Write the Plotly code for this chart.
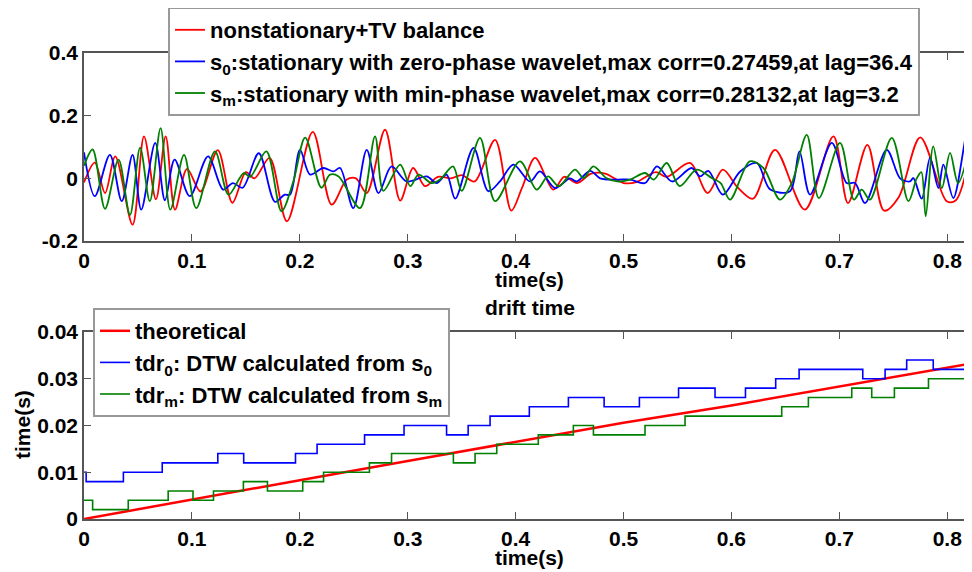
import plotly.graph_objects as go

# ---------------- top panel: traces ----------------
red_t = [0, 0.010, 0.0195, 0.029, 0.045, 0.0556, 0.0667, 0.0757, 0.0843, 0.0955, 0.108, 0.124, 0.1375,
         0.150, 0.158, 0.172, 0.188, 0.212, 0.2295, 0.2435, 0.252, 0.262, 0.279, 0.293, 0.305, 0.316,
         0.328, 0.340, 0.350, 0.362, 0.381, 0.396, 0.406, 0.418, 0.435, 0.445, 0.457, 0.470, 0.483,
         0.500, 0.512, 0.530, 0.540, 0.5616, 0.578, 0.592, 0.606, 0.620, 0.6404, 0.668, 0.6945, 0.708,
         0.726, 0.7414, 0.755, 0.775, 0.7995, 0.808, 0.822]
red_v = [-0.013, 0.05, -0.047, 0.07, -0.148, 0.134, -0.067, 0.134, -0.10, 0.03, -0.042, 0.09, -0.078,
         0.02, 0.0, 0.065, -0.137, 0.148, -0.084, -0.004, 0.0, -0.047, 0.155, -0.071, 0.033, -0.025,
         0.005, 0.0, 0.01, -0.01, 0.123, -0.103, -0.03, 0.065, -0.036, 0.005, -0.015, 0.015, 0.015,
         -0.015, -0.012, 0.02, 0.005, 0.049, -0.047, 0.028, -0.03, -0.065, 0.091, -0.10, 0.134, -0.079,
         0.107, -0.103, -0.06, 0.131, -0.073, -0.07, 0.097]

blue_t = [0, 0.010, 0.024, 0.035, 0.045, 0.053, 0.066, 0.075, 0.084, 0.098, 0.115, 0.129, 0.138, 0.147,
          0.162, 0.177, 0.186, 0.191, 0.2002, 0.2095, 0.2218, 0.2311, 0.2373, 0.2496, 0.262, 0.2729,
          0.285, 0.299, 0.3176, 0.3268, 0.336, 0.344, 0.361, 0.3747, 0.3855, 0.3979, 0.4133, 0.4226,
          0.4365, 0.4504, 0.4566, 0.469, 0.4783, 0.4937, 0.5061, 0.520, 0.531, 0.545, 0.563, 0.5709,
          0.5786, 0.592, 0.6081, 0.6234, 0.636, 0.6543, 0.663, 0.6728, 0.693, 0.7068, 0.7145, 0.7238,
          0.7439, 0.7563, 0.7655, 0.7686, 0.7763, 0.784, 0.7918, 0.7964, 0.8057, 0.8196, 0.8227]
blue_v = [0.083, -0.057, 0.075, -0.073, 0.075, -0.10, 0.113, -0.07, 0.06, -0.057, 0.07, -0.036, -0.015,
          -0.03, 0.08, -0.075, -0.052, -0.052, 0.091, 0.012, 0.033, 0.022, 0.033, -0.095, 0.091, -0.047,
          0.038, -0.01, 0.006, -0.015, 0.012, -0.065, 0.097, -0.041, -0.01, 0.044, -0.01, 0.022,
          -0.031, 0.0, -0.01, 0.024, 0.0, -0.004, -0.004, -0.015, 0.038, -0.01, 0.033, 0.006,
          0.024, -0.052, 0.022, 0.049, -0.036, -0.041, 0.086, -0.052, 0.113, -0.015, -0.015, -0.079,
          0.091, 0.0, -0.01, 0.001, -0.065, 0.065, -0.031, 0.044, -0.063, 0.166, 0.128]

green_t = [0, 0.008, 0.0195, 0.032, 0.0426, 0.052, 0.061, 0.071, 0.080, 0.0927, 0.104, 0.1214, 0.134,
           0.148, 0.154, 0.169, 0.183, 0.194, 0.205, 0.220, 0.228, 0.236, 0.2558, 0.2697, 0.2775,
           0.293, 0.3024, 0.310, 0.322, 0.330, 0.342, 0.350, 0.367, 0.381, 0.404, 0.4195, 0.430,
           0.440, 0.455, 0.463, 0.472, 0.484, 0.494, 0.506, 0.520, 0.528, 0.540, 0.552, 0.5677,
           0.5817, 0.590, 0.5987, 0.617, 0.6296, 0.645, 0.6559, 0.6698, 0.681, 0.7006, 0.7135,
           0.7207, 0.7284, 0.7486, 0.764, 0.7717, 0.776, 0.780, 0.787, 0.795, 0.8026, 0.810, 0.822]
green_v = [0.04, 0.092, -0.097, 0.06, -0.117, 0.098, -0.073, 0.16, -0.10, 0.075, -0.095, 0.086, -0.052,
           0.017, 0.005, 0.086, -0.105, -0.01, 0.13, -0.03, 0.012, 0.006, -0.095, 0.134, -0.04,
           0.044, -0.025, 0.012, -0.015, -0.004, 0.038, -0.04, 0.129, -0.073, 0.054, -0.036, 0.006,
           -0.025, 0.028, 0.001, 0.038, 0.001, -0.01, -0.004, 0.017, -0.004, 0.049, -0.025, 0.028,
           0.001, -0.015, -0.068, 0.054, 0.033, -0.068, -0.015, 0.139, -0.063, 0.113, -0.068,
           -0.036, -0.068, 0.129, -0.073, 0.0, 0.02, -0.121, 0.102, -0.031, 0.081, -0.015, 0.118]

# ---------------- bottom panel: drift time ----------------
theo_t = [0, 0.1, 0.2, 0.3, 0.4, 0.5, 0.6, 0.7, 0.8, 0.823]
theo_v = [0, 0.0042, 0.0083, 0.0124, 0.0165, 0.0206, 0.0243, 0.0283, 0.0324, 0.0333]

tdr0_t = [0, 0.002, 0.0365, 0.0725, 0.124, 0.148, 0.196, 0.216, 0.260, 0.2966, 0.336, 0.356,
          0.3763, 0.4127, 0.4489, 0.482, 0.5147, 0.551, 0.5848, 0.613, 0.641, 0.6627, 0.7217,
          0.7424, 0.7624, 0.787, 0.823]
tdr0_v = [0.010, 0.008, 0.010, 0.012, 0.014, 0.012, 0.014, 0.016, 0.018, 0.020, 0.018, 0.020,
          0.022, 0.024, 0.026, 0.024, 0.026, 0.028, 0.026, 0.028, 0.030, 0.032, 0.030,
          0.032, 0.034, 0.032, 0.032]

tdrm_t = [0, 0.008, 0.041, 0.078, 0.101, 0.120, 0.1477, 0.170, 0.2027, 0.222, 0.2645, 0.285,
          0.3423, 0.3624, 0.3825, 0.421, 0.4535, 0.4721, 0.5199, 0.557, 0.6466, 0.6713, 0.7115,
          0.730, 0.751, 0.7826, 0.823]
tdrm_v = [0.004, 0.002, 0.004, 0.006, 0.004, 0.006, 0.008, 0.006, 0.008, 0.010, 0.012, 0.014,
          0.012, 0.014, 0.016, 0.018, 0.020, 0.018, 0.020, 0.022, 0.024, 0.026, 0.028,
          0.026, 0.028, 0.030, 0.030]

x_ticks = [0, 0.1, 0.2, 0.3, 0.4, 0.5, 0.6, 0.7, 0.8]
x_labels = ["0", "0.1", "0.2", "0.3", "0.4", "0.5", "0.6", "0.7", "0.8"]
y1_ticks = [-0.2, 0, 0.2, 0.4]
y1_labels = ["-0.2", "0", "0.2", "0.4"]
y2_ticks = [0, 0.01, 0.02, 0.03, 0.04]
y2_labels = ["0", "0.01", "0.02", "0.03", "0.04"]

RED, BLUE, GREEN = "#ff0000", "#0000ff", "#008000"
FONT = "Liberation Sans, Arial, sans-serif"

fig = go.Figure()
fig.add_trace(go.Scatter(x=red_t, y=red_v, mode="lines", line=dict(color=RED, width=1.8, shape="spline", smoothing=0.9),
                         name="nonstationary+TV balance", xaxis="x", yaxis="y", legend="legend"))
fig.add_trace(go.Scatter(x=blue_t, y=blue_v, mode="lines", line=dict(color=BLUE, width=1.8, shape="spline", smoothing=0.9),
                         name="s<sub>0</sub>:stationary with zero-phase wavelet,max corr=0.27459,at lag=36.4",
                         xaxis="x", yaxis="y", legend="legend"))
fig.add_trace(go.Scatter(x=green_t, y=green_v, mode="lines", line=dict(color=GREEN, width=1.8, shape="spline", smoothing=0.9),
                         name="s<sub>m</sub>:stationary with min-phase wavelet,max corr=0.28132,at lag=3.2",
                         xaxis="x", yaxis="y", legend="legend"))

fig.add_trace(go.Scatter(x=theo_t, y=theo_v, mode="lines", line=dict(color=RED, width=2.5),
                         name="theoretical", xaxis="x2", yaxis="y2", legend="legend2"))
fig.add_trace(go.Scatter(x=tdr0_t, y=tdr0_v, mode="lines", line=dict(color=BLUE, width=1.6, shape="hv"),
                         name="tdr<sub>0</sub>: DTW calculated from s<sub>0</sub>", xaxis="x2", yaxis="y2", legend="legend2"))
fig.add_trace(go.Scatter(x=tdrm_t, y=tdrm_v, mode="lines", line=dict(color=GREEN, width=1.6, shape="hv"),
                         name="tdr<sub>m</sub>: DTW calculated from s<sub>m</sub>", xaxis="x2", yaxis="y2", legend="legend2"))

# The page body offsets the figure by 8 px; size the figure so it ends at the window edge.
OFF = 8
H, W = 572 - OFF, 972 - OFF
ml = 84 - OFF
mt = 53 - OFF
mb = H - (519 - OFF)
mr = 1
ph = H - mt - mb
pw = W - ml - mr


def py(pix):
    return (H - mb - (pix - OFF)) / ph


def px(pix):
    return (pix - OFF - ml) / pw


axis_common = dict(showline=True, linecolor="#555", linewidth=1.5, mirror="allticks", ticks="inside",
                   ticklen=7, tickcolor="#555", tickwidth=1.2, showgrid=False, zeroline=False,
                   automargin=False,
                   tickfont=dict(family=FONT, size=21, color="black", weight="bold"))

legend_font = dict(family=FONT, size=22, color="black", weight="bold")

fig.update_layout(
    width=W, height=H, margin=dict(l=ml, r=mr, t=mt, b=mb, autoexpand=False),
    paper_bgcolor="white", plot_bgcolor="white",
    font=dict(family=FONT, size=21, color="black", weight="bold"),
    xaxis=dict(domain=[0, 1], range=[0, 0.822], anchor="y", tickvals=x_ticks, ticktext=x_labels, **axis_common),
    yaxis=dict(domain=[py(241), 1], range=[-0.2, 0.4], anchor="x", tickvals=y1_ticks, ticktext=y1_labels, **axis_common),
    xaxis2=dict(domain=[0, 1], range=[0, 0.822], anchor="y2", tickvals=x_ticks, ticktext=x_labels, **axis_common),
    yaxis2=dict(domain=[0, py(332)], range=[0, 0.04], anchor="x2", tickvals=y2_ticks, ticktext=y2_labels, **axis_common),
    legend=dict(x=px(168), y=py(7), xanchor="left", yanchor="top",
                bgcolor="white", bordercolor="#999", borderwidth=2,
                font=legend_font, itemwidth=30),
    legend2=dict(x=px(93), y=py(308), xanchor="left", yanchor="top",
                 bgcolor="white", bordercolor="#999", borderwidth=2,
                 font=legend_font, itemwidth=30),
    showlegend=True,
)

ann_font = dict(family=FONT, size=21, color="black", weight="bold")
for txt, ax_, ay_, ang in [("time(s)", 529, 279, 0), ("drift time", 530, 307, 0),
                           ("time(s)", 529, 557, 0), ("time(s)", 22, 425, -90)]:
    fig.add_annotation(text=txt, x=px(ax_), y=py(ay_), xref="paper", yref="paper", showarrow=False,
                       xanchor="center", yanchor="middle", textangle=ang, font=ann_font)

fig.write_html("out.html")
